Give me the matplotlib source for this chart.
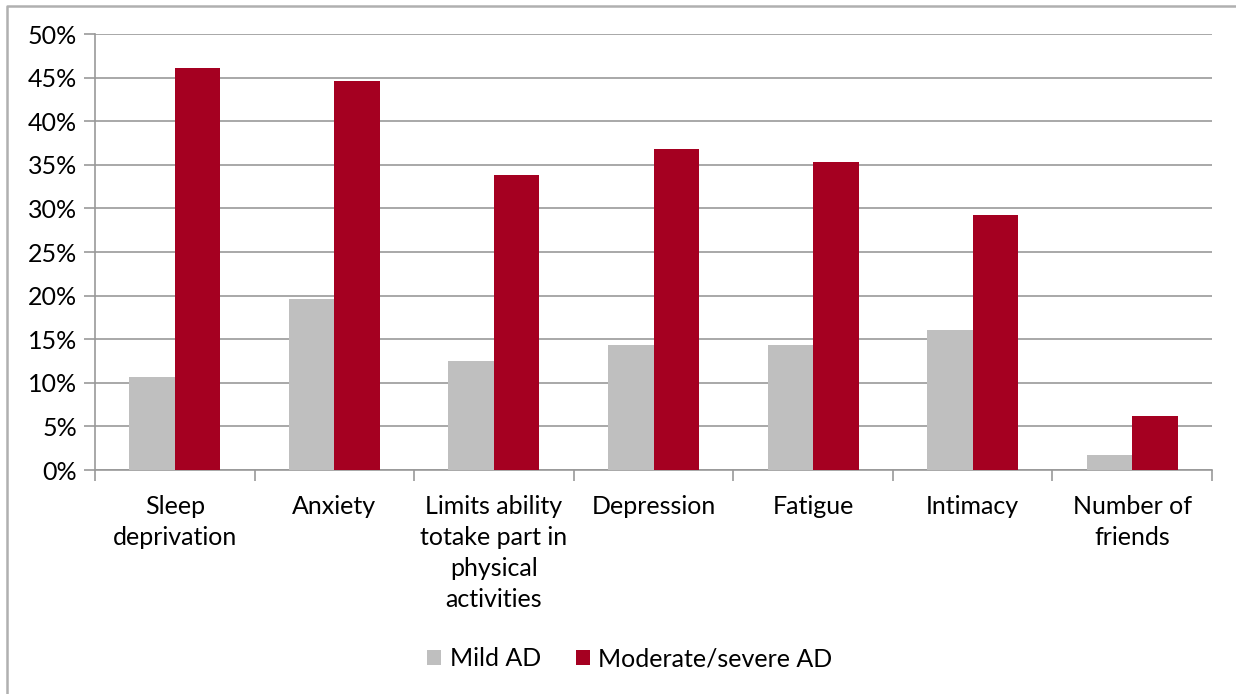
import numpy as np
import matplotlib
matplotlib.use("Agg")
import matplotlib.pyplot as plt
from matplotlib.lines import Line2D
from matplotlib.ticker import FuncFormatter, MultipleLocator

categories = ["Sleep\ndeprivation", "Anxiety", "Limits ability\ntotake part in\nphysical\nactivities",
              "Depression", "Fatigue", "Intimacy", "Number of\nfriends"]
mild = [10.7, 19.6, 12.5, 14.3, 14.3, 16.1, 1.75]
moderate = [46.1, 44.6, 33.8, 36.8, 35.3, 29.2, 6.2]

grey = "#BFBFBF"
red = "#A50021"
gridc = "#999999"

plt.rcParams['font.family'] = ['Lato', 'DejaVu Sans']
fs = 18

fig = plt.figure(figsize=(12.36, 6.94), dpi=100)
ax = fig.add_axes([95/1236, 1-470/694, 1117/1236, 436/694])

x = np.arange(len(categories))
w = 0.285
ax.bar(x - w/2, mild, w, color=grey, label="Mild AD", zorder=3)
ax.bar(x + w/2, moderate, w, color=red, label="Moderate/severe AD", zorder=3)

ax.set_xlim(-0.5, len(categories) - 0.5)
ax.set_ylim(0, 50)
ax.yaxis.set_major_locator(MultipleLocator(5))
ax.yaxis.set_major_formatter(FuncFormatter(lambda v, p: f"{v:.0f}%"))
ax.grid(axis="y", color=gridc, linewidth=1.2, zorder=0)

ax.set_xticks(x)
ax.set_xticklabels(categories, fontsize=fs, linespacing=1.42, va="top")
ax.tick_params(axis="x", length=0, pad=18)
ax.set_xticks(np.arange(len(categories) + 1) - 0.5, minor=True)
ax.tick_params(axis="x", which="minor", length=8, color=gridc, width=1.2)
ax.tick_params(axis="y", labelsize=fs, length=8, color=gridc, width=1.2, pad=5)

for s in ["top", "right"]:
    ax.spines[s].set_visible(False)
for s in ["left", "bottom"]:
    ax.spines[s].set_color(gridc)
    ax.spines[s].set_linewidth(1.2)

ax.legend(loc="center", bbox_to_anchor=(630/1236, 1-659/694), bbox_transform=fig.transFigure,
          ncol=2, frameon=False, fontsize=fs, handlelength=0.55, handleheight=0.55,
          handletextpad=0.35, columnspacing=1.4)

# outer chart border (only left and top edges visible in the crop)
fig.add_artist(Line2D([7/1236, 7/1236, 1], [0, 1-6/694, 1-6/694], transform=fig.transFigure,
                      color="#B0B0B0", linewidth=1.8))

fig.savefig("out.png", dpi=100)
